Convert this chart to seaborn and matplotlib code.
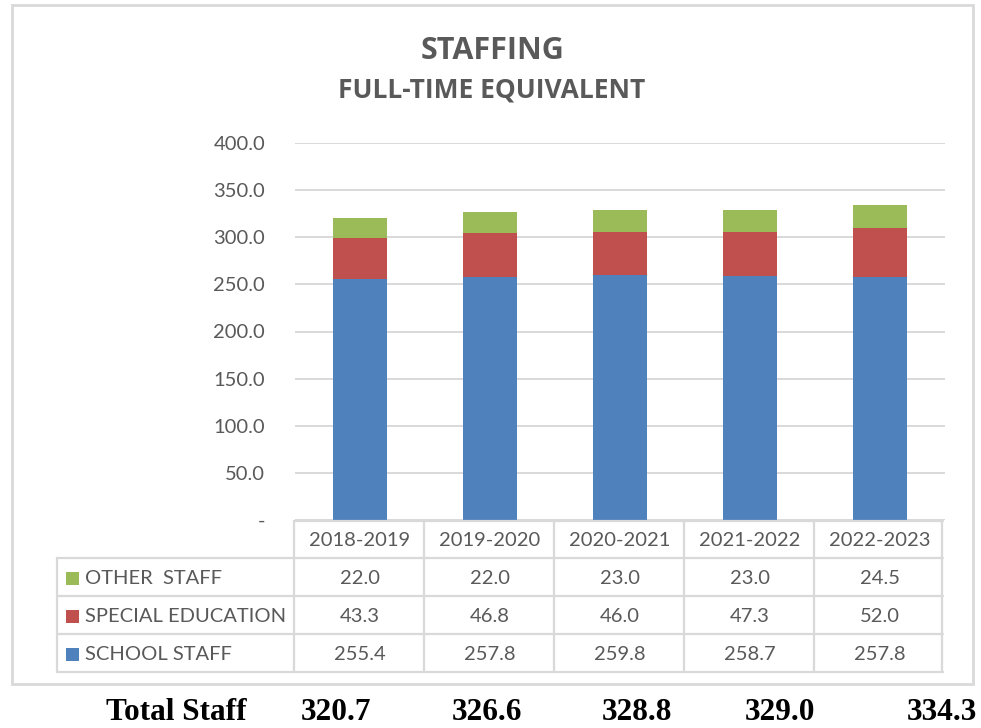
import matplotlib
matplotlib.use("Agg")
import matplotlib.pyplot as plt
import matplotlib.patches as mpatches
import seaborn as sns
import numpy as np
import pandas as pd

# ---- data ----
years = ["2018-2019", "2019-2020", "2020-2021", "2021-2022", "2022-2023"]
school_staff = [255.4, 257.8, 259.8, 258.7, 257.8]
special_education = [43.3, 46.8, 46.0, 47.3, 52.0]
other_staff = [22.0, 22.0, 23.0, 23.0, 24.5]
series_names = ["OTHER  STAFF", "SPECIAL EDUCATION", "SCHOOL STAFF"]
yticks = [0, 50, 100, 150, 200, 250, 300, 350, 400]

BLUE = "#4F81BD"
RED = "#C0504D"
GREEN = "#9BBB59"
GRID = "#D9D9D9"
TXT = "#595959"

sns.set_theme(style="white")
plt.rcParams['font.family'] = ['Lato', 'DejaVu Sans']

W, H = 981, 728
fig = plt.figure(figsize=(W / 100, H / 100), dpi=100)
fig.patch.set_facecolor("white")

# main plot area in pixel layout
L, R, T, B = 295, 945, 143, 520
ax = fig.add_axes([L / W, 1 - B / H, (R - L) / W, (B - T) / H])

df = pd.DataFrame({"year": years, "school": school_staff,
                   "sped": special_education, "other": other_staff})
df["lvl2"] = df["school"] + df["sped"]
df["lvl3"] = df["lvl2"] + df["other"]

bw = 0.41
sns.barplot(data=df, x="year", y="lvl3", color=GREEN, saturation=1, width=bw,
            linewidth=0, ax=ax, zorder=2)
sns.barplot(data=df, x="year", y="lvl2", color=RED, saturation=1, width=bw,
            linewidth=0, ax=ax, zorder=3)
sns.barplot(data=df, x="year", y="school", color=BLUE, saturation=1, width=bw,
            linewidth=0, ax=ax, zorder=4)

FS = 14.5
ax.set_xlim(-0.5, len(years) - 0.5)
ax.set_ylim(0, 400)
ax.set_yticks(yticks)
ax.set_yticklabels(["-" if v == 0 else f"{v:.1f}" for v in yticks],
                   color=TXT, fontsize=FS)
ax.tick_params(axis="y", length=0, pad=21.5)
ax.set_xticks([])
ax.set_xlabel("")
ax.set_ylabel("")
for s in ax.spines.values():
    s.set_visible(False)
ax.yaxis.grid(True, color=GRID, linewidth=1.4)
ax.set_axisbelow(True)

# overlay in pixel coordinates for title, table and totals
ov = fig.add_axes([0, 0, 1, 1], zorder=10)
ov.set_xlim(0, W)
ov.set_ylim(H, 0)
ov.axis("off")
ov.patch.set_alpha(0)

# outer chart border
ov.add_patch(mpatches.Rectangle((12, 5), 961, 679, fill=False,
                                edgecolor=GRID, linewidth=2))

title_font = ["Open Sans", "DejaVu Sans"]
ov.text(493, 51, "STAFFING", ha="center", va="center", fontsize=22,
        fontweight="bold", color=TXT, family=title_font)
ov.text(492, 90, "FULL-TIME EQUIVALENT", ha="center", va="center",
        fontsize=19, fontweight="bold", color=TXT, family=title_font)

# data table
n = len(years)
colw = (R - L) / n
rows_y = [521, 558, 596, 634, 672]
tl = 57
lw = 1.6
ov.plot([L - 1, R - 2], [rows_y[0], rows_y[0]], color=GRID, lw=lw)
for yy in rows_y[1:]:
    ov.plot([tl, R - 2], [yy, yy], color=GRID, lw=lw)
ov.plot([tl, tl], [rows_y[1], rows_y[-1]], color=GRID, lw=lw)
for i in range(n + 1):
    xx = L - 1 + colw * i - (2 if i == n else 0)
    ov.plot([xx, xx], [rows_y[0], rows_y[-1]], color=GRID, lw=lw)

centers = [L + colw * (i + 0.5) for i in range(n)]
for c, yr in zip(centers, years):
    ov.text(c, (rows_y[0] + rows_y[1]) / 2 + 1, yr, ha="center", va="center",
            fontsize=FS, color=TXT)

table_series = [(series_names[0], other_staff, GREEN),
                (series_names[1], special_education, RED),
                (series_names[2], school_staff, BLUE)]
for r, (name, vals, col) in enumerate(table_series):
    yc = (rows_y[r + 1] + rows_y[r + 2]) / 2 + 1
    ov.add_patch(mpatches.Rectangle((66, yc - 6), 13, 13, facecolor=col,
                                    edgecolor="none"))
    ov.text(85, yc, name, ha="left", va="center", fontsize=FS, color=TXT)
    for c, v in zip(centers, vals):
        ov.text(c, yc, f"{v:.1f}", ha="center", va="center", fontsize=FS,
                color=TXT)

# totals row
totals = [round(a + b + c, 1) for a, b, c in zip(school_staff, special_education, other_staff)]
tot_x = [336, 487, 637, 780, 942]
serif = ["Liberation Serif", "DejaVu Serif"]
ov.text(176, 712, "Total Staff", ha="center", va="center", fontsize=22.5,
        fontweight="bold", family=serif, color="black")
for x, t in zip(tot_x, totals):
    ov.text(x, 712, f"{t:.1f}", ha="center", va="center", fontsize=22.5,
            fontweight="bold", family=serif, color="black")

fig.savefig("out.png", dpi=100, facecolor="white")
